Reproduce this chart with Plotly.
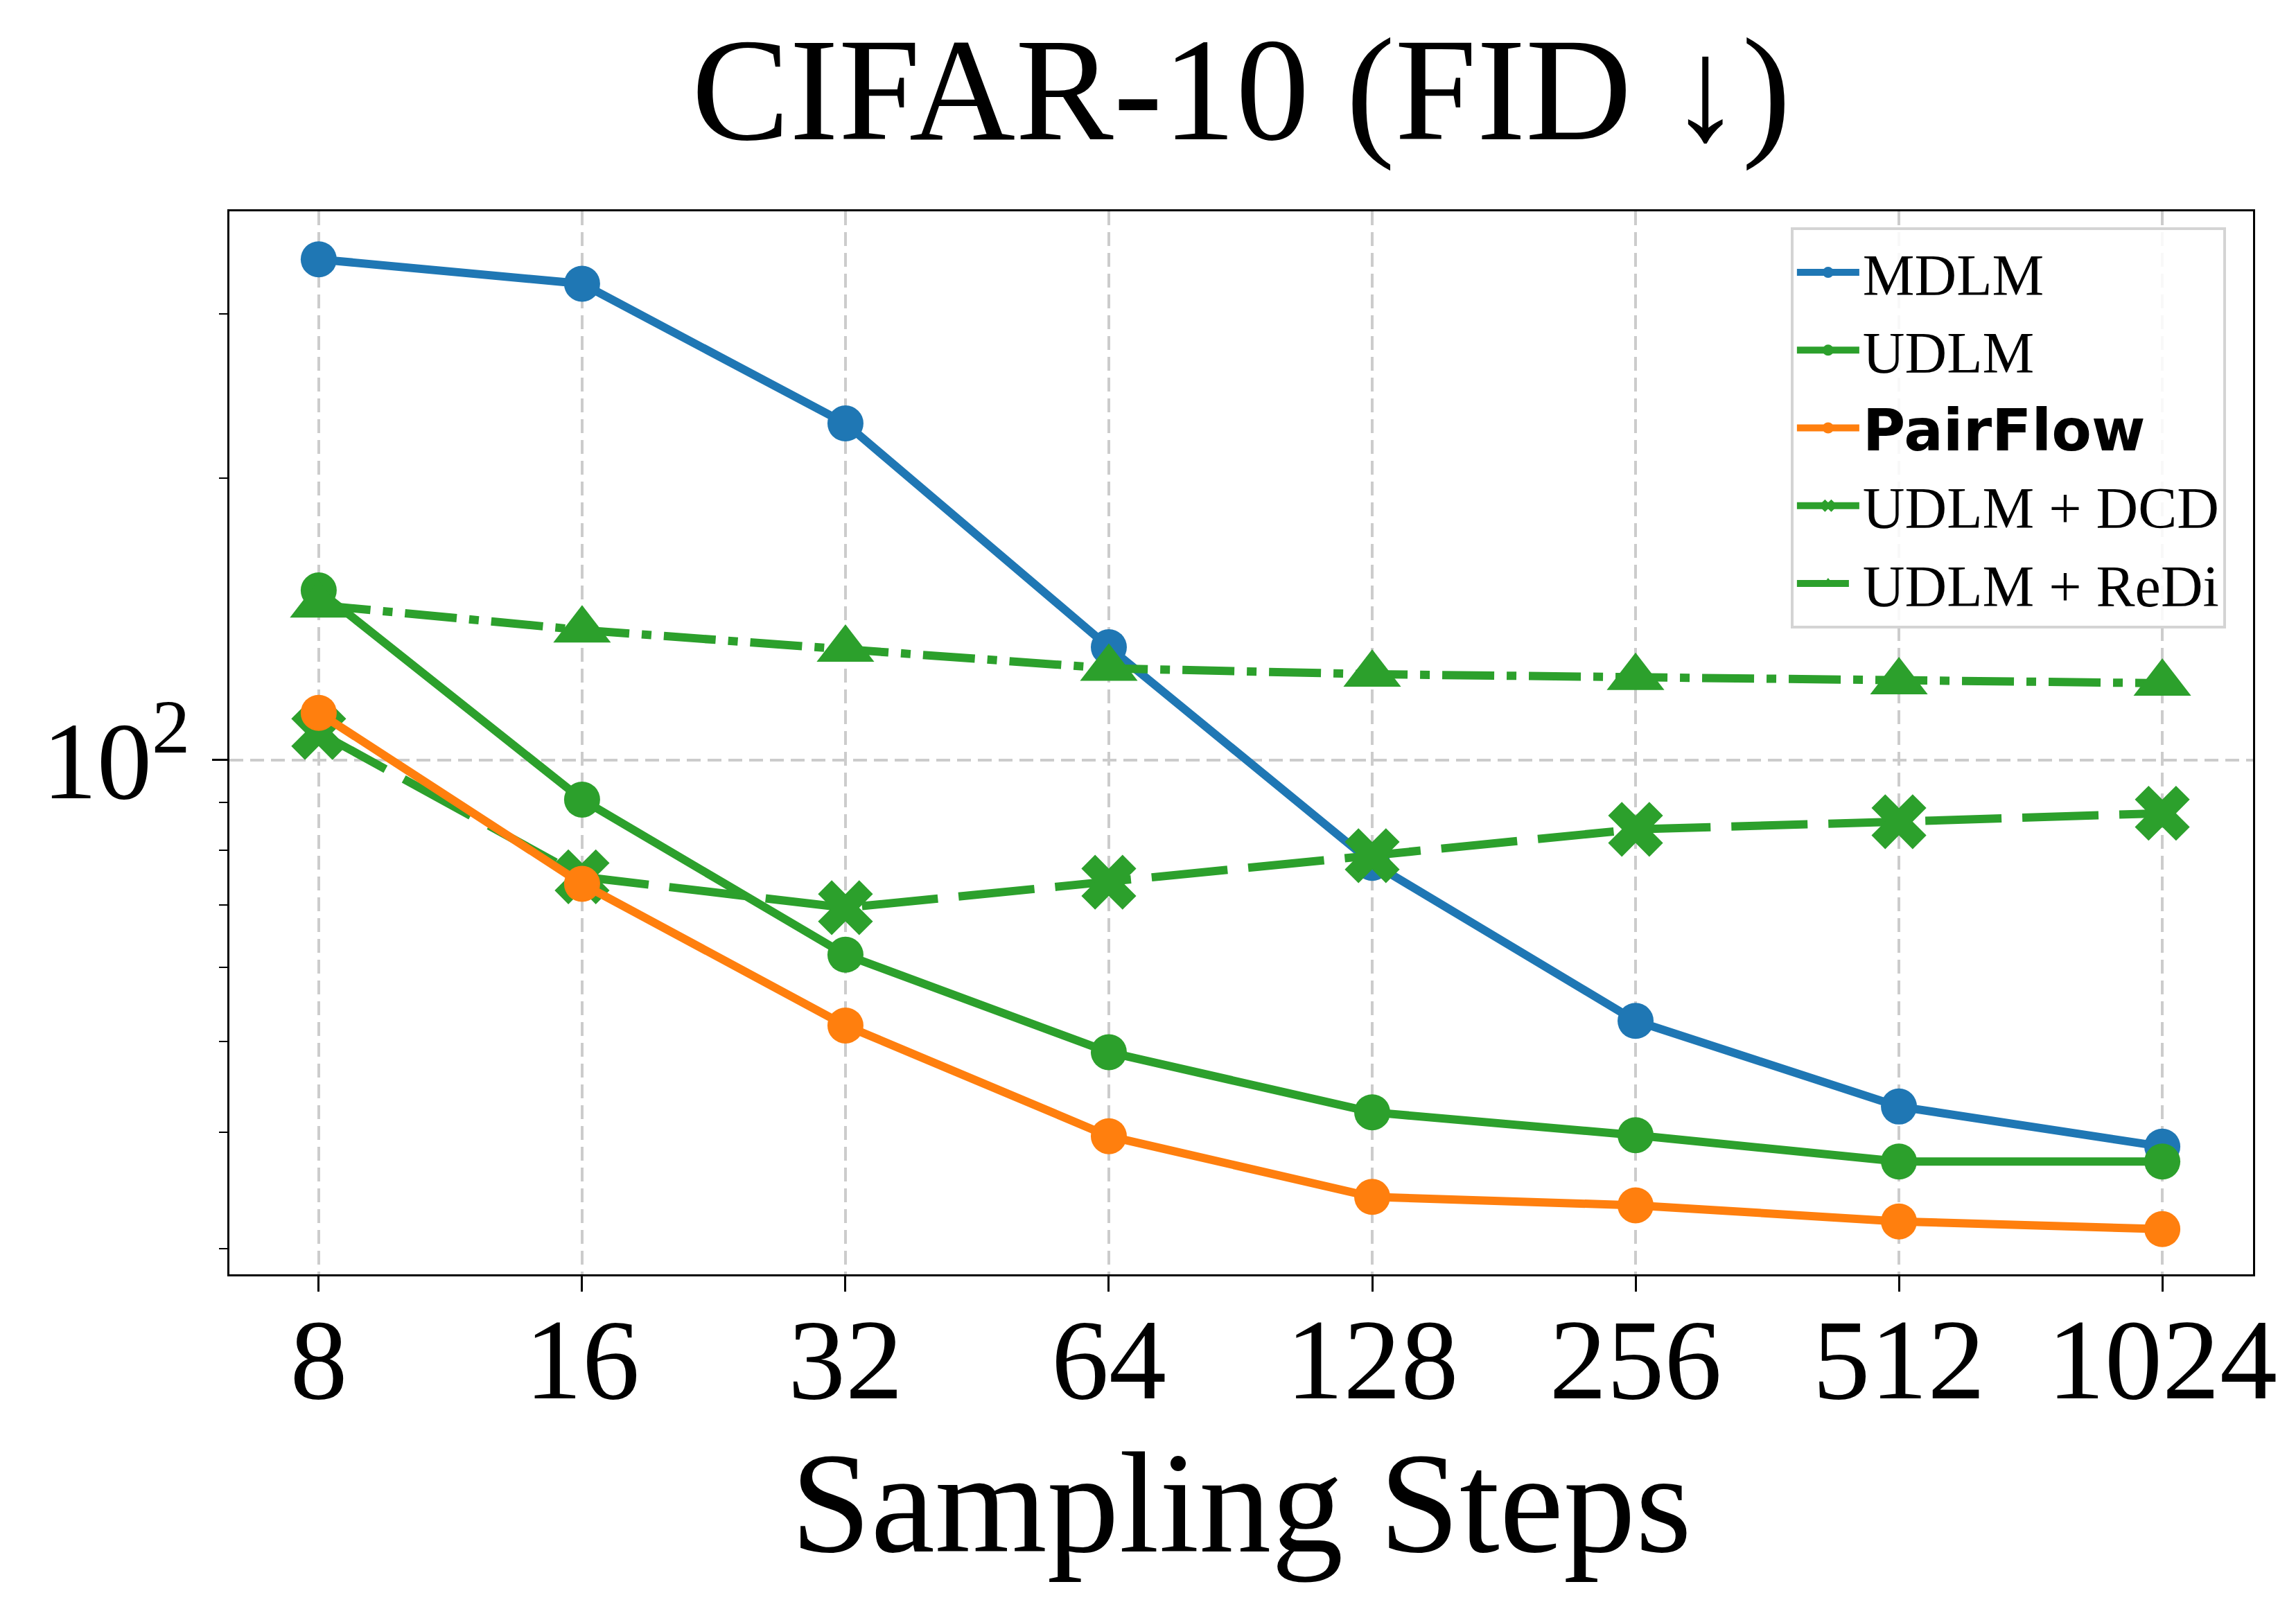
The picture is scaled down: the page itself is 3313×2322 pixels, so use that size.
import plotly.graph_objects as go

# sampling steps on the x axis
steps = [8, 16, 32, 64, 128, 256, 512, 1024]
step_labels = ["8", "16", "32", "64", "128", "256", "512", "1024"]

# FID values (log scale)
fid_mdlm = [343, 323, 229, 132, 77.6, 52.6, 42.6, 38.6]
fid_udlm = [151.8, 90.7, 61.9, 48.7, 42.0, 39.7, 37.2, 37.2]
fid_pairflow = [112.3, 73.7, 52.0, 39.6, 34.1, 33.4, 32.1, 31.5]
fid_udlm_dcd = [107, 75, 69.5, 74, 79, 84.3, 85.9, 87.7]
fid_udlm_redi = [146.4, 137.7, 131.3, 125.3, 123.5, 122.5, 121.2, 120.8]

# y axis ticks
y_major = [100]
y_major_text = ["10<sup>2</sup>"]
y_minor = [30, 40, 50, 60, 70, 80, 90, 200, 300]

BLUE = "#1f77b4"
GREEN = "#2ca02c"
ORANGE = "#ff7f0e"
SERIF = "Liberation Serif, Times New Roman, serif"
LW = 12

fig = go.Figure()

# draw order: orange ends up on top, legend order fixed with legendrank
fig.add_trace(go.Scatter(x=steps, y=fid_mdlm, name="MDLM", mode="lines+markers",
                         line=dict(color=BLUE, width=LW),
                         marker=dict(symbol="circle", size=52, color=BLUE),
                         legendrank=1))
fig.add_trace(go.Scatter(x=steps, y=fid_udlm, name="UDLM", mode="lines+markers",
                         line=dict(color=GREEN, width=LW),
                         marker=dict(symbol="circle", size=52, color=GREEN),
                         legendrank=2))
fig.add_trace(go.Scatter(x=steps, y=fid_udlm_dcd, name="UDLM + DCD", mode="lines+markers",
                         line=dict(color=GREEN, width=LW, dash="110px,30px"),
                         marker=dict(symbol="x", size=70, color=GREEN),
                         legendrank=4))
fig.add_trace(go.Scatter(x=steps, y=fid_udlm_redi, name="UDLM + ReDi", mode="lines+markers",
                         line=dict(color=GREEN, width=LW, dash="75px,18px,14px,18px"),
                         marker=dict(symbol="triangle-up", size=72, color=GREEN),
                         legendrank=5))
fig.add_trace(go.Scatter(x=steps, y=fid_pairflow,
                         name="<span style='font-family:DejaVu Sans'><b>PairFlow</b></span>",
                         mode="lines+markers",
                         line=dict(color=ORANGE, width=LW),
                         marker=dict(symbol="circle", size=52, color=ORANGE),
                         legendrank=3))

fig.update_layout(
    width=3313, height=2322,
    margin=dict(l=323, r=70, t=297, b=491),
    paper_bgcolor="white", plot_bgcolor="white",
    font=dict(family=SERIF, color="black"),
    title=dict(text="CIFAR-10 (FID ↓)", x=0.5, xref="paper", xanchor="center",
               y=0.949, yref="container", yanchor="middle",
               font=dict(family=SERIF, size=212, color="black")),
    legend=dict(x=0.9866, y=0.985, xanchor="right", yanchor="top",
                bgcolor="rgba(255,255,255,0.85)", bordercolor="#d4d4d4", borderwidth=4,
                font=dict(family=SERIF, size=84, color="black"),
                itemwidth=90, tracegroupgap=0),
    showlegend=True,
)

fig.update_xaxes(
    type="log", range=[0.801, 3.114],
    tickvals=steps, ticktext=step_labels,
    tickfont=dict(family=SERIF, size=166),
    ticks="outside", ticklen=22, tickwidth=3, tickcolor="black",
    ticklabelstandoff=-45,
    showline=True, linecolor="black", linewidth=3, mirror=True,
    showgrid=True, gridcolor="#cccccc", gridwidth=4, griddash="20px,10px",
    zeroline=False,
    title=dict(text="Sampling Steps", font=dict(family=SERIF, size=208), standoff=30),
)

fig.update_yaxes(
    type="log", range=[1.450, 2.5866],
    tickvals=y_major, ticktext=y_major_text,
    tickfont=dict(family=SERIF, size=158),
    ticks="outside", ticklen=22, tickwidth=3, tickcolor="black",
    minor=dict(tickvals=y_minor, ticks="outside", ticklen=12, tickwidth=2,
               tickcolor="black", showgrid=False),
    showline=True, linecolor="black", linewidth=3, mirror=True,
    showgrid=True, gridcolor="#cccccc", gridwidth=4, griddash="20px,10px",
    zeroline=False,
)

fig.write_html("out.html")
